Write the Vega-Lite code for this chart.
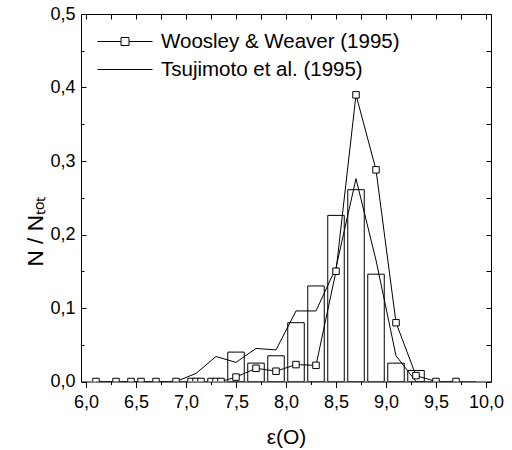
{
  "$schema": "https://vega.github.io/schema/vega-lite/v6.json",
  "width": 410,
  "height": 367.5,
  "autosize": {"type": "none"},
  "padding": {"left": 81, "top": 14, "right": 21, "bottom": 68.5},
  "background": "white",
  "config": {
    "font": "Liberation Sans",
    "view": {"stroke": "black", "strokeWidth": 1},
    "axis": {
      "domain": false, "grid": false, "tickColor": "black", "labelColor": "black",
      "titleColor": "black", "tickWidth": 1, "labelFont": "Liberation Sans",
      "titleFont": "Liberation Sans", "titleFontWeight": "normal",
      "labelFlush": false, "labelOverlap": false, "labelBound": false
    }
  },
  "datasets": {
    "bars": [
      {"eps": 7.5, "frac": 0.040},
      {"eps": 7.7, "frac": 0.025},
      {"eps": 7.9, "frac": 0.035},
      {"eps": 8.1, "frac": 0.080},
      {"eps": 8.3, "frac": 0.130},
      {"eps": 8.5, "frac": 0.226},
      {"eps": 8.7, "frac": 0.261},
      {"eps": 8.9, "frac": 0.146},
      {"eps": 9.1, "frac": 0.025},
      {"eps": 9.3, "frac": 0.015}
    ],
    "curves": [
      {"series": "Woosley & Weaver (1995)", "eps": 6.1, "frac": 0},
      {"series": "Woosley & Weaver (1995)", "eps": 6.3, "frac": 0},
      {"series": "Woosley & Weaver (1995)", "eps": 6.45, "frac": 0},
      {"series": "Woosley & Weaver (1995)", "eps": 6.55, "frac": 0},
      {"series": "Woosley & Weaver (1995)", "eps": 6.7, "frac": 0},
      {"series": "Woosley & Weaver (1995)", "eps": 6.9, "frac": 0},
      {"series": "Woosley & Weaver (1995)", "eps": 7.05, "frac": 0},
      {"series": "Woosley & Weaver (1995)", "eps": 7.1, "frac": 0},
      {"series": "Woosley & Weaver (1995)", "eps": 7.15, "frac": 0},
      {"series": "Woosley & Weaver (1995)", "eps": 7.25, "frac": 0},
      {"series": "Woosley & Weaver (1995)", "eps": 7.3, "frac": 0},
      {"series": "Woosley & Weaver (1995)", "eps": 7.35, "frac": 0},
      {"series": "Woosley & Weaver (1995)", "eps": 7.5, "frac": 0.006},
      {"series": "Woosley & Weaver (1995)", "eps": 7.7, "frac": 0.018},
      {"series": "Woosley & Weaver (1995)", "eps": 7.9, "frac": 0.014},
      {"series": "Woosley & Weaver (1995)", "eps": 8.1, "frac": 0.023},
      {"series": "Woosley & Weaver (1995)", "eps": 8.3, "frac": 0.022},
      {"series": "Woosley & Weaver (1995)", "eps": 8.5, "frac": 0.150},
      {"series": "Woosley & Weaver (1995)", "eps": 8.7, "frac": 0.390},
      {"series": "Woosley & Weaver (1995)", "eps": 8.9, "frac": 0.288},
      {"series": "Woosley & Weaver (1995)", "eps": 9.1, "frac": 0.080},
      {"series": "Woosley & Weaver (1995)", "eps": 9.3, "frac": 0.008},
      {"series": "Woosley & Weaver (1995)", "eps": 9.5, "frac": 0},
      {"series": "Woosley & Weaver (1995)", "eps": 9.7, "frac": 0},
      {"series": "Tsujimoto et al. (1995)", "eps": 6.1, "frac": 0},
      {"series": "Tsujimoto et al. (1995)", "eps": 6.3, "frac": 0},
      {"series": "Tsujimoto et al. (1995)", "eps": 6.5, "frac": 0},
      {"series": "Tsujimoto et al. (1995)", "eps": 6.7, "frac": 0},
      {"series": "Tsujimoto et al. (1995)", "eps": 6.9, "frac": 0},
      {"series": "Tsujimoto et al. (1995)", "eps": 7.1, "frac": 0.011},
      {"series": "Tsujimoto et al. (1995)", "eps": 7.3, "frac": 0.034},
      {"series": "Tsujimoto et al. (1995)", "eps": 7.5, "frac": 0.026},
      {"series": "Tsujimoto et al. (1995)", "eps": 7.7, "frac": 0.045},
      {"series": "Tsujimoto et al. (1995)", "eps": 7.9, "frac": 0.043},
      {"series": "Tsujimoto et al. (1995)", "eps": 8.1, "frac": 0.096},
      {"series": "Tsujimoto et al. (1995)", "eps": 8.3, "frac": 0.096},
      {"series": "Tsujimoto et al. (1995)", "eps": 8.5, "frac": 0.155},
      {"series": "Tsujimoto et al. (1995)", "eps": 8.7, "frac": 0.276},
      {"series": "Tsujimoto et al. (1995)", "eps": 8.9, "frac": 0.165},
      {"series": "Tsujimoto et al. (1995)", "eps": 9.1, "frac": 0.035},
      {"series": "Tsujimoto et al. (1995)", "eps": 9.3, "frac": 0},
      {"series": "Tsujimoto et al. (1995)", "eps": 9.5, "frac": 0},
      {"series": "Tsujimoto et al. (1995)", "eps": 9.7, "frac": 0},
      {"series": "Tsujimoto et al. (1995)", "eps": 9.9, "frac": 0}
    ]
  },
  "layer": [
    {
      "data": {"name": "bars"},
      "mark": {"type": "bar", "width": 16.5, "fill": null, "fillOpacity": 0, "stroke": "black", "strokeWidth": 1, "clip": true},
      "encoding": {
        "x": {
          "field": "eps", "type": "quantitative",
          "scale": {"domain": [6, 10], "nice": false, "zero": false},
          "axis": {
            "orient": "bottom", "values": [6, 6.5, 7, 7.5, 8, 8.5, 9, 9.5, 10],
            "tickSize": 6, "labelFontSize": 18, "labelPadding": 6,
            "labelExpr": "replace(format(datum.value, '.1f'), '.', ',')",
            "title": "ε(O)", "titleFontSize": 21, "titlePadding": 15
          }
        },
        "y": {
          "field": "frac", "type": "quantitative",
          "scale": {"domain": [0, 0.5], "nice": false},
          "axis": {
            "orient": "left", "values": [0, 0.1, 0.2, 0.3, 0.4, 0.5],
            "tickSize": -5, "labelFontSize": 18, "labelPadding": 11,
            "labelExpr": "replace(format(datum.value, '.1f'), '.', ',')",
            "title": "N / Nₜₒₜ", "titleFontSize": 22.5, "titleBaseline": "alphabetic",
            "titleX": -39, "titleY": 217, "titleAngle": -90
          }
        }
      }
    },
    {
      "data": {"name": "curves"},
      "transform": [{"filter": "datum.series === 'Tsujimoto et al. (1995)'"}],
      "mark": {"type": "line", "strokeWidth": 1, "clip": true},
      "encoding": {
        "x": {
          "field": "eps", "type": "quantitative",
          "scale": {"domain": [6, 10], "nice": false, "zero": false},
          "axis": {
            "orient": "top", "values": [6, 6.25, 6.5, 6.75, 7, 7.25, 7.5, 7.75, 8, 8.25, 8.5, 8.75, 9, 9.25, 9.5, 9.75, 10],
            "tickSize": -5, "labels": false, "title": null
          }
        },
        "y": {
          "field": "frac", "type": "quantitative",
          "scale": {"domain": [0, 0.5], "nice": false},
          "axis": {
            "orient": "right", "values": [0, 0.05, 0.1, 0.15, 0.2, 0.25, 0.3, 0.35, 0.4, 0.45, 0.5],
            "tickSize": -5, "labels": false, "title": null
          }
        },
        "stroke": {
          "field": "series", "type": "nominal",
          "scale": {"domain": ["Woosley & Weaver (1995)", "Tsujimoto et al. (1995)"], "range": ["black", "black"]},
          "legend": {
            "orient": "none", "legendX": 33.5, "legendY": 17, "padding": 0, "title": null,
            "symbolSize": 400, "symbolStrokeWidth": 1, "symbolStrokeColor": "black",
            "labelFontSize": 20.5, "labelFont": "Liberation Sans", "labelColor": "black",
            "labelLimit": 0, "labelOffset": 25.5, "rowPadding": 7,
            "encode": {
              "symbols": {
                "update": {
                  "shape": {"signal": "datum.value === 'Woosley & Weaver (1995)' ? 'M-2.75,0H-0.4M0.4,0H2.75M-0.4,-0.4H0.4V0.4H-0.4Z' : 'M-2.75,0H2.75'"},
                  "fill": {"value": "white"},
                  "stroke": {"value": "black"}
                }
              }
            }
          }
        }
      }
    },
    {
      "data": {"name": "curves"},
      "transform": [{"filter": "datum.series === 'Woosley & Weaver (1995)'"}],
      "mark": {"type": "line", "strokeWidth": 1, "clip": true},
      "encoding": {
        "x": {
          "field": "eps", "type": "quantitative",
          "scale": {"domain": [6, 10], "nice": false, "zero": false},
          "axis": {
            "orient": "bottom", "values": [6.25, 6.75, 7.25, 7.75, 8.25, 8.75, 9.25, 9.75],
            "tickSize": 3, "labels": false, "title": null
          }
        },
        "y": {
          "field": "frac", "type": "quantitative",
          "scale": {"domain": [0, 0.5], "nice": false},
          "axis": {
            "orient": "left", "values": [0.05, 0.15, 0.25, 0.35, 0.45],
            "tickSize": -3, "labels": false, "title": null
          }
        },
        "stroke": {
          "field": "series", "type": "nominal",
          "scale": {"domain": ["Woosley & Weaver (1995)", "Tsujimoto et al. (1995)"], "range": ["black", "black"]}
        }
      }
    },
    {
      "data": {"name": "curves"},
      "transform": [{"filter": "datum.series === 'Woosley & Weaver (1995)'"}],
      "mark": {"type": "point", "shape": "square", "size": 42, "fill": "white", "fillOpacity": 1, "stroke": "black", "strokeWidth": 1, "opacity": 1, "clip": true},
      "encoding": {
        "x": {"field": "eps", "type": "quantitative", "scale": {"domain": [6, 10], "nice": false, "zero": false}, "axis": null},
        "y": {"field": "frac", "type": "quantitative", "scale": {"domain": [0, 0.5], "nice": false}, "axis": null}
      }
    }
  ],
  "resolve": {"axis": {"x": "independent", "y": "independent"}}
}
